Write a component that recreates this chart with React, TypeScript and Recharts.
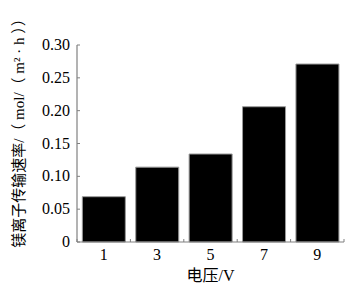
import { BarChart, Bar, XAxis, YAxis } from 'recharts';

const voltages = ['1', '3', '5', '7', '9'];
const rates = [0.069, 0.114, 0.134, 0.206, 0.271];
const rateTicks = [0, 0.05, 0.1, 0.15, 0.2, 0.25, 0.3];

const data = voltages.map((v, i) => ({ voltage: v, rate: rates[i] }));

const AXIS = '#808080';
const SERIF = 'Liberation Serif, Noto Sans CJK SC, serif';

// y ticks: label outside, short mark pointing into the plot
const YTick = (props: any) => {
  const { x, y, payload } = props;
  const label = payload.value === 0 ? '0' : payload.value.toFixed(2);
  return (
    <g>
      <text x={x} y={y} dy={5} textAnchor="end" fontSize={16} fontFamily={SERIF} fill="#000">
        {label}
      </text>
      <line x1={x + 7} x2={x + 10} y1={y} y2={y} stroke={AXIS} />
    </g>
  );
};

// x ticks: marks sit on the category edges, labels in the middle
const XTick = (props: any) => {
  const { x, y, payload, index } = props;
  const half = payload.offset || 0;
  return (
    <g>
      <text x={x} y={y} dy={18} textAnchor="middle" fontSize={16} fontFamily={SERIF} fill="#000">
        {payload.value}
      </text>
      <line x1={x - half} x2={x - half} y1={y} y2={y - 3} stroke={AXIS} />
      {index === voltages.length - 1 && (
        <line x1={x + half} x2={x + half} y1={y} y2={y - 3} stroke={AXIS} />
      )}
    </g>
  );
};

export default function App() {
  return (
    <div style={{ position: 'absolute', left: 0, top: 0 }}>
      <BarChart
        width={364}
        height={285}
        data={data}
        margin={{ top: 45, right: 20, bottom: 0, left: 0 }}
        barCategoryGap="10%"
      >
        <XAxis
          dataKey="voltage"
          height={43}
          axisLine={{ stroke: AXIS, strokeWidth: 1.2 }}
          tickLine={false}
          tickSize={0}
          tickMargin={0}
          tick={<XTick />}
          label={{
            content: ({ viewBox }: any) => (
              <text
                x={viewBox.x + viewBox.width / 2}
                y={viewBox.y + 39}
                textAnchor="middle"
                fontSize={16}
                fontFamily={SERIF}
                fill="#000"
              >
                电压/V
              </text>
            ),
          }}
        />
        <YAxis
          width={77}
          domain={[0, 0.3]}
          ticks={rateTicks}
          axisLine={{ stroke: AXIS, strokeWidth: 1.2 }}
          tickLine={false}
          tickSize={0}
          tickMargin={7}
          tick={<YTick />}
          label={{
            content: ({ viewBox }: any) => {
              const cx = viewBox.x + 19;
              const cy = viewBox.y + viewBox.height / 2 - 14;
              return (
                <text
                  x={cx}
                  y={cy}
                  transform={`rotate(-90, ${cx}, ${cy})`}
                  textAnchor="middle"
                  dominantBaseline="central"
                  fontSize={15}
                  fontFamily={SERIF}
                  fill="#000"
                >
                  镁离子传输速率/（ mol/（ m² · h ））
                </text>
              );
            },
          }}
        />
        <Bar dataKey="rate" fill="#000" stroke="#999" strokeWidth={1} isAnimationActive={false} />
      </BarChart>
    </div>
  );
}
